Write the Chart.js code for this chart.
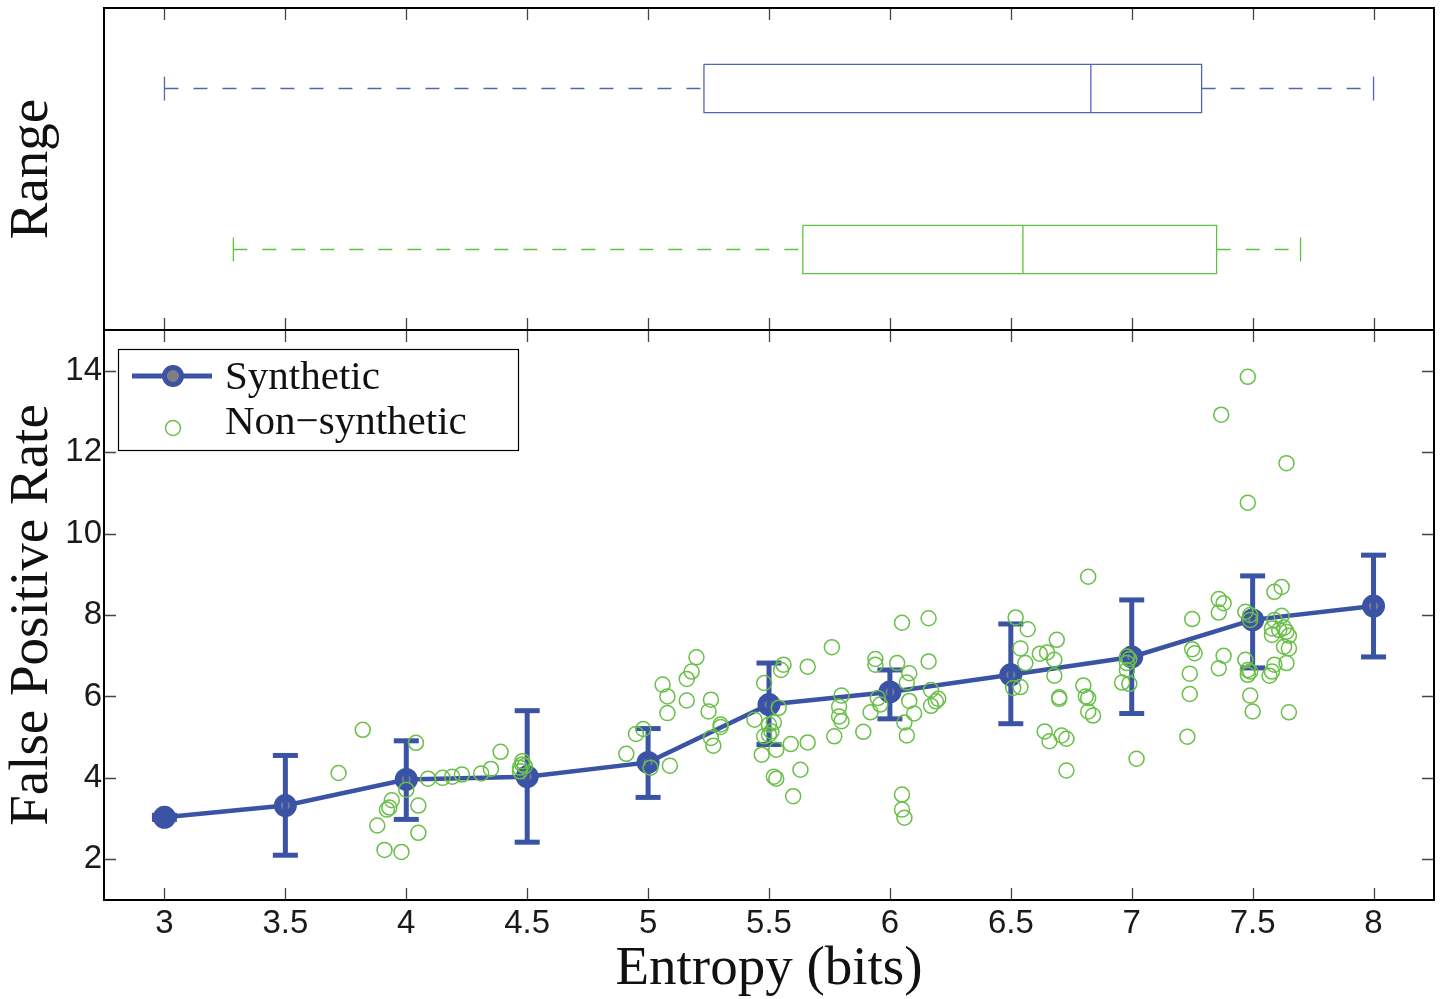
<!DOCTYPE html>
<html><head><meta charset="utf-8">
<script src="https://cdn.jsdelivr.net/npm/chart.js@4.4.1/dist/chart.umd.min.js"></script>
<style>
html,body{margin:0;padding:0;background:#fff;}
#wrap{position:relative;width:1443px;height:999px;background:#fff;}
canvas{position:absolute;left:0;top:0;}
</style>
</head><body>
<div id="wrap"><canvas id="topChart" width="1443" height="999"></canvas><canvas id="bottomChart" width="1443" height="999"></canvas></div>
<script>
// ---------- data ----------
const entropyTicks = [3, 3.5, 4, 4.5, 5, 5.5, 6, 6.5, 7, 7.5, 8];
const fprTicks = [2, 4, 6, 8, 10, 12, 14];

const synthEntropy = [3, 3.5, 4, 4.5, 5, 5.5, 6, 6.5, 7, 7.5, 8];
const synthMean    = [3.03, 3.32, 3.96, 4.03, 4.38, 5.80, 6.11, 6.53, 6.97, 7.88, 8.22];
const synthLow     = [2.98, 2.10, 2.98, 2.42, 3.52, 4.82, 5.45, 5.33, 5.58, 6.70, 6.97];
const synthHigh    = [3.08, 4.55, 4.91, 5.65, 5.21, 6.82, 6.65, 7.78, 8.37, 8.96, 9.47];

const nonSynthEntropy = [
 3.82,3.72,4.04,4.00,4.09,4.15,4.19,4.23,4.31,4.35,4.39,4.48,4.48,4.47,4.47,4.49,3.94,3.92,3.93,4.05,3.88,4.05,3.91,3.98,
 4.91,4.95,4.98,5.01,5.09,5.06,5.08,5.08,5.20,5.18,5.16,5.16,5.26,5.25,5.30,5.30,5.26,5.27,
 5.48,5.55,5.56,5.66,5.76,5.54,5.44,5.50,5.52,5.51,5.50,5.48,5.47,5.53,5.59,5.66,5.52,5.53,5.63,5.60,5.80,5.79,5.79,5.80,5.77,
 5.94,5.94,6.03,6.16,6.08,6.07,6.05,6.16,5.89,5.92,5.95,5.96,6.08,6.10,6.06,6.07,6.17,6.17,6.19,6.20,6.05,6.05,6.06,
 6.52,6.57,6.69,6.54,6.62,6.65,6.68,6.56,6.68,6.51,6.54,6.80,6.81,6.82,6.82,6.84,6.70,6.70,6.64,6.66,6.71,6.73,6.73,6.82,
 6.98,6.99,6.98,6.98,6.96,6.99,7.02,
 7.48,7.37,7.64,7.48,7.25,7.36,7.38,7.36,7.47,7.49,7.49,7.59,7.62,7.59,7.62,7.58,7.61,7.58,7.64,7.65,7.65,7.63,
 7.25,7.26,7.38,7.36,7.24,7.47,7.48,7.48,7.49,7.64,7.59,7.58,7.57,7.24,7.49,7.50,7.65,7.23,7.63
];
const nonSynthFPR = [
 5.18,4.12,4.86,3.71,3.98,4.00,4.03,4.08,4.11,4.22,4.64,4.41,4.33,4.25,4.16,4.29,3.45,3.22,3.27,3.32,2.83,2.65,2.23,2.18,
 4.59,5.08,5.20,4.25,4.30,6.29,6.00,5.59,6.96,6.61,6.43,5.90,5.92,5.63,5.31,5.25,4.98,4.79,
 6.33,6.65,6.78,6.73,7.21,5.72,5.43,5.31,5.36,5.14,5.06,5.02,4.57,4.69,4.83,4.87,4.03,3.98,4.20,3.55,6.02,5.75,5.51,5.39,5.02,
 6.92,6.78,6.82,6.86,6.57,6.34,7.81,7.92,5.13,5.61,5.96,5.80,5.89,5.58,5.36,5.04,6.16,5.77,5.88,5.94,3.59,3.22,3.02,
 7.94,7.65,7.39,7.18,7.05,7.08,6.90,6.82,6.51,6.21,6.23,6.27,6.00,5.96,5.63,5.53,5.98,5.94,5.14,4.90,5.04,4.96,4.18,8.94,
 6.98,6.92,6.82,6.65,6.34,6.31,4.47,
 13.85,12.92,11.73,10.76,7.90,8.39,8.29,8.06,8.08,8.00,7.88,8.57,8.69,7.88,7.98,7.67,7.63,7.51,7.59,7.49,7.18,7.22,
 7.16,7.06,7.00,6.69,6.56,6.90,6.65,6.53,6.61,6.82,6.78,6.61,6.51,6.06,6.02,5.63,5.61,5.01,7.69
];

// Range box plots (top panel), position 1 = Synthetic, 2 = Non-synthetic
const rangeNames  = ['Synthetic', 'Non\u2212synthetic'];
const rangePos    = [1, 2];
const rangeLow    = [3.00, 3.285];
const rangeQ1     = [5.231, 5.640];
const rangeMedian = [6.831, 6.550];
const rangeQ3     = [7.289, 7.351];
const rangeHigh   = [8.00, 7.698];

// ---------- styles ----------
const BLUE = '#3a53a4';
const BOX_BLUE = '#5366b6';
const BOX_GREEN = '#5ec43c';
const DOT_GREEN = '#6abf48';
const SERIF = '"Liberation Serif", "Times New Roman", serif';
const SANS = '"Liberation Sans", Arial, Helvetica, sans-serif';
const BOX_HALF = 0.15;

function framePlugin(drawYTicks) {
  return {
    id: 'frame',
    afterDatasetsDraw(chart) {
      const {ctx, chartArea: a, scales} = chart;
      ctx.save();
      ctx.strokeStyle = '#444';
      ctx.lineWidth = 1.3;
      const L = 12;
      ctx.beginPath();
      entropyTicks.forEach(v => {
        const px = Math.round(scales.x.getPixelForValue(v)) + 0.5;
        ctx.moveTo(px, a.top); ctx.lineTo(px, a.top + L);
        ctx.moveTo(px, a.bottom); ctx.lineTo(px, a.bottom - L);
      });
      if (drawYTicks) {
        fprTicks.forEach(v => {
          const py = Math.round(scales.y.getPixelForValue(v)) + 0.5;
          ctx.moveTo(a.left, py); ctx.lineTo(a.left + L, py);
          ctx.moveTo(a.right, py); ctx.lineTo(a.right - L, py);
        });
      }
      ctx.stroke();
      ctx.strokeStyle = '#000';
      ctx.lineWidth = 2;
      ctx.strokeRect(a.left, a.top, a.right - a.left, a.bottom - a.top);
      ctx.restore();
    }
  };
}

const legendPlugin = {
  id: 'boxLegend',
  afterDraw(chart) {
    const {ctx, chartArea: a} = chart;
    const x0 = a.left + 14, y0 = a.top + 19, w = 400, h = 101;
    ctx.save();
    ctx.fillStyle = '#fff';
    ctx.fillRect(x0, y0, w, h);
    ctx.strokeStyle = '#000';
    ctx.lineWidth = 1.2;
    ctx.strokeRect(x0 + 0.5, y0 + 0.5, w, h);
    const r1 = y0 + 27, r2 = y0 + 79;
    ctx.strokeStyle = BLUE; ctx.lineWidth = 5;
    ctx.beginPath(); ctx.moveTo(x0 + 14, r1); ctx.lineTo(x0 + 94, r1); ctx.stroke();
    ctx.beginPath(); ctx.arc(x0 + 55, r1, 8.5, 0, Math.PI * 2);
    ctx.fillStyle = '#808080'; ctx.fill(); ctx.lineWidth = 5; ctx.stroke();
    ctx.strokeStyle = DOT_GREEN; ctx.lineWidth = 1.5;
    ctx.beginPath(); ctx.arc(x0 + 55, r2, 7.5, 0, Math.PI * 2); ctx.stroke();
    ctx.fillStyle = '#111';
    ctx.font = '41px ' + SERIF;
    ctx.textBaseline = 'alphabetic';
    ctx.fillText(rangeNames[0], x0 + 107, r1 + 13);
    ctx.fillText(rangeNames[1], x0 + 107, r2 + 6);
    ctx.restore();
  }
};

const commonX = {
  type: 'linear', min: 2.75, max: 8.25,
  afterBuildTicks: s => { s.ticks = entropyTicks.map(v => ({value: v})); },
  grid: {display: false, drawTicks: false},
  border: {display: false}
};

// ---------- top chart: range box plots ----------
const topDatasets = [];
rangePos.forEach((p, i) => {
  const col = i === 0 ? BOX_BLUE : BOX_GREEN;
  topDatasets.push({
    data: [
      {x: rangeQ1[i], y: p - BOX_HALF}, {x: rangeQ3[i], y: p - BOX_HALF},
      {x: rangeQ3[i], y: p + BOX_HALF}, {x: rangeQ1[i], y: p + BOX_HALF},
      {x: rangeQ1[i], y: p - BOX_HALF}
    ],
    showLine: true, borderColor: col, borderWidth: 1.3, pointRadius: 0, tension: 0
  });
  topDatasets.push({
    data: [{x: rangeLow[i], y: p}, {x: rangeQ1[i], y: p}],
    showLine: true, borderColor: col, borderWidth: 1.3, borderDash: [14, 15], pointRadius: 0
  });
  topDatasets.push({
    data: [{x: rangeQ3[i], y: p}, {x: rangeHigh[i], y: p}],
    showLine: true, borderColor: col, borderWidth: 1.3, borderDash: [14, 15], pointRadius: 0
  });
  topDatasets.push({
    data: [{x: rangeLow[i], y: p}, {x: rangeHigh[i], y: p}],
    pointStyle: 'line', rotation: 90, pointRadius: 12, pointBorderWidth: 1.3,
    pointBorderColor: col, borderColor: col, showLine: false
  });
  topDatasets.push({
    data: [{x: rangeMedian[i], y: p}],
    pointStyle: 'line', rotation: 90, pointRadius: 24, pointBorderWidth: 1.3,
    pointBorderColor: col, borderColor: col, showLine: false
  });
});

new Chart(document.getElementById('topChart'), {
  type: 'scatter',
  data: {datasets: topDatasets},
  options: {
    responsive: false, animation: false, devicePixelRatio: 1, events: [],
    layout: {autoPadding: false, padding: {top: 8, bottom: 669, left: 0, right: 9}},
    plugins: {legend: {display: false}, tooltip: {enabled: false}},
    scales: {
      x: Object.assign({}, commonX, {display: false}),
      y: {
        type: 'linear', min: 0.5, max: 2.5, reverse: true,
        afterFit: s => { s.width = 104; },
        ticks: {display: false},
        grid: {display: false, drawTicks: false},
        border: {display: false},
        title: {display: true, text: 'Range', color: '#111', font: {family: SERIF, size: 55}, padding: {top: 0, bottom: 0}}
      }
    }
  },
  plugins: [framePlugin(false)]
});

// ---------- bottom chart: false positive rate ----------
const errStem = [];
const errCaps = [];
synthEntropy.forEach((x, i) => {
  errStem.push({x, y: synthLow[i]}, {x, y: synthHigh[i]}, {x, y: null});
  errCaps.push({x, y: synthLow[i]}, {x, y: synthHigh[i]});
});

new Chart(document.getElementById('bottomChart'), {
  type: 'scatter',
  data: {
    datasets: [
      {
        label: 'Non\u2212synthetic',
        data: nonSynthEntropy.map((x, i) => ({x, y: nonSynthFPR[i]})),
        pointRadius: 7.5, pointBorderWidth: 1.5, pointBorderColor: DOT_GREEN,
        pointBackgroundColor: 'rgba(0,0,0,0)', showLine: false, order: 0
      },
      {
        label: 'errstem', data: errStem, showLine: true, spanGaps: false,
        borderColor: BLUE, borderWidth: 5, pointRadius: 0, order: 1
      },
      {
        label: 'errcaps', data: errCaps, showLine: false, pointStyle: 'line',
        pointRadius: 12.5, pointBorderWidth: 5, pointBorderColor: BLUE, borderColor: BLUE, order: 1
      },
      {
        label: 'Synthetic',
        data: synthEntropy.map((x, i) => ({x, y: synthMean[i]})),
        showLine: true, borderColor: BLUE, borderWidth: 4.5,
        pointRadius: 8, pointBorderWidth: 7, pointBorderColor: BLUE,
        pointBackgroundColor: '#7a7f95', order: 2
      }
    ]
  },
  options: {
    responsive: false, animation: false, devicePixelRatio: 1, events: [],
    layout: {autoPadding: false, padding: {top: 330, bottom: 0, left: 0, right: 9}},
    plugins: {legend: {display: false}, tooltip: {enabled: false}},
    scales: {
      x: Object.assign({}, commonX, {
        afterFit: s => { s.height = 99; },
        ticks: {color: '#1a1a1a', font: {family: SANS, size: 33}, padding: 4, callback: v => String(v)},
        title: {display: true, text: 'Entropy (bits)', color: '#111', font: {family: SERIF, size: 55}, padding: {top: 0, bottom: -4}}
      }),
      y: {
        type: 'linear', min: 1, max: 15,
        afterBuildTicks: s => { s.ticks = fprTicks.map(v => ({value: v})); },
        afterFit: s => { s.width = 104; },
        ticks: {color: '#1a1a1a', font: {family: SANS, size: 33}, padding: 2, callback: v => String(v)},
        grid: {display: false, drawTicks: false},
        border: {display: false},
        title: {display: true, text: 'False Positive Rate', color: '#111', font: {family: SERIF, size: 55}, padding: {top: 0, bottom: 0}}
      }
    }
  },
  plugins: [framePlugin(true), legendPlugin]
});
</script>
</body></html>
